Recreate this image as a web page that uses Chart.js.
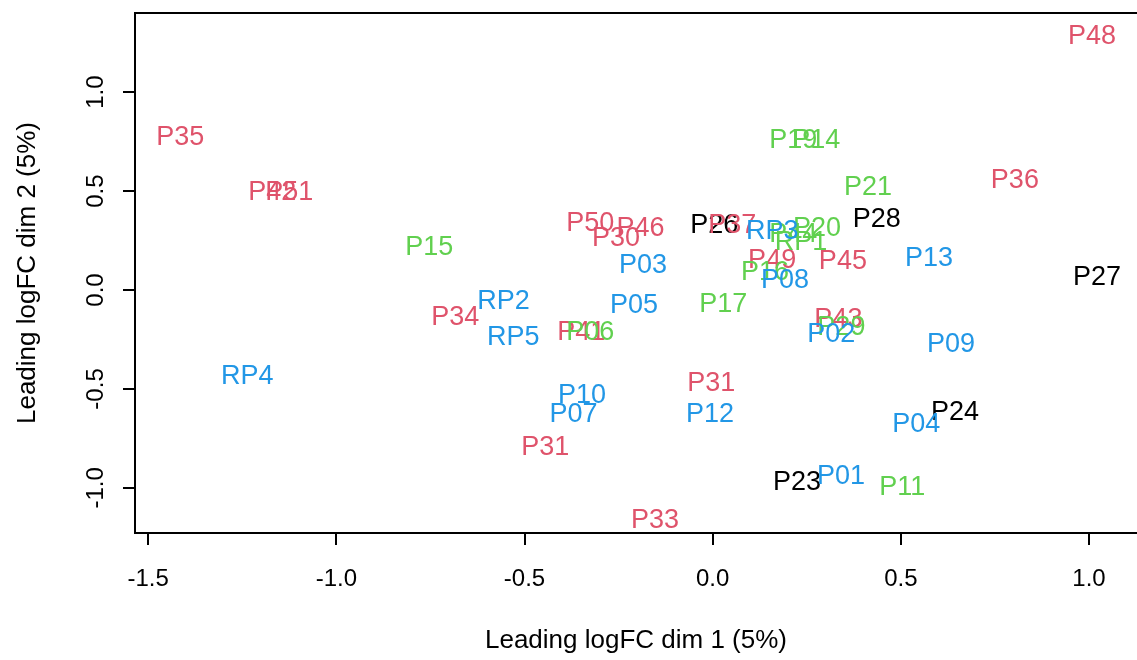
<!DOCTYPE html>
<html>
<head>
<meta charset="utf-8">
<script src="https://cdn.jsdelivr.net/npm/chart.js@4.4.1/dist/chart.umd.min.js"></script>
<style>
  html, body { margin: 0; padding: 0; background: #fff; overflow: hidden; }
  #wrap { width: 1137px; height: 660px; }
</style>
</head>
<body>
<div id="wrap"><canvas id="mds" width="1137" height="660"></canvas></div>
<script>
// sample labels and coordinates, one set per colour group
const blackLabels = ['P26', 'P28', 'P27', 'P24', 'P23'];
const blackX = [0.004, 0.436, 1.021, 0.644, 0.224];
const blackY = [0.338, 0.369, 0.076, -0.606, -0.960];

const redLabels = ['P48', 'P35', 'P42', 'P51', 'P36', 'P50', 'P46', 'P30', 'P37', 'P49',
  'P45', 'P34', 'P41', 'P43', 'P31', 'P31', 'P33'];
const redX = [1.008, -1.415, -1.170, -1.125, 0.803, -0.325, -0.192, -0.257, 0.052, 0.158,
  0.346, -0.684, -0.349, 0.334, -0.004, -0.445, -0.153];
const redY = [1.294, 0.783, 0.505, 0.505, 0.566, 0.349, 0.323, 0.273, 0.338, 0.162,
  0.157, -0.126, -0.202, -0.136, -0.460, -0.783, -1.152];

const greenLabels = ['P15', 'P19', 'P14', 'P21', 'P20', 'P44', 'RP1', 'P16', 'P17', 'P06',
  'P29', 'P11'];
const greenX = [-0.753, 0.214, 0.275, 0.413, 0.277, 0.214, 0.235, 0.139, 0.028, -0.325,
  0.342, 0.504];
const greenY = [0.227, 0.768, 0.768, 0.531, 0.323, 0.293, 0.253, 0.101, -0.061, -0.202,
  -0.177, -0.985];

const blueLabels = ['P03', 'RP3', 'P08', 'P13', 'P05', 'RP2', 'RP5', 'RP4', 'P10', 'P07',
  'P12', 'P02', 'P09', 'P04', 'P01'];
const blueX = [-0.185, 0.158, 0.192, 0.575, -0.209, -0.556, -0.530, -1.237, -0.347, -0.370,
  -0.007, 0.315, 0.633, 0.541, 0.341];
const blueY = [0.136, 0.308, 0.061, 0.172, -0.066, -0.045, -0.227, -0.424, -0.520, -0.616,
  -0.616, -0.212, -0.263, -0.667, -0.930];

const xTicks = [-1.5, -1.0, -0.5, 0.0, 0.5, 1.0];
const yTicks = [-1.0, -0.5, 0.0, 0.5, 1.0];

const FONT = '"Liberation Sans", Arial, sans-serif';
const LABEL_SIZE = 27;

function toPoints(xs, ys) {
  return xs.map((x, i) => ({ x, y: ys[i] }));
}

function group(labels, xs, ys, color) {
  return {
    data: toPoints(xs, ys),
    labels,
    borderColor: color,
    backgroundColor: color,
    pointRadius: 0,
    pointHoverRadius: 0,
    showLine: false,
  };
}

// draws the sample names centred on their points, like R's text()
const textLabels = {
  id: 'textLabels',
  afterDatasetsDraw(chart) {
    const ctx = chart.ctx;
    ctx.save();
    ctx.font = `${LABEL_SIZE}px ${FONT}`;
    ctx.textAlign = 'center';
    ctx.textBaseline = 'alphabetic';
    const capHalf = LABEL_SIZE * 0.358;
    chart.data.datasets.forEach((ds, i) => {
      const meta = chart.getDatasetMeta(i);
      ctx.fillStyle = ds.borderColor;
      meta.data.forEach((pt, j) => ctx.fillText(ds.labels[j], pt.x, pt.y + capHalf));
    });
    ctx.restore();
  },
};

// open box round the plot region (right side is off the picture) plus rotated y tick labels
const rFrame = {
  id: 'rFrame',
  afterDraw(chart) {
    const { ctx, chartArea: a } = chart;
    const y = chart.scales.y;
    ctx.save();
    ctx.strokeStyle = '#000';
    ctx.lineWidth = 2;
    ctx.beginPath();
    ctx.moveTo(a.right + 2, a.top);
    ctx.lineTo(a.left, a.top);
    ctx.lineTo(a.left, a.bottom);
    ctx.lineTo(a.right + 2, a.bottom);
    ctx.stroke();

    ctx.fillStyle = '#000';
    ctx.font = `24px ${FONT}`;
    ctx.textAlign = 'center';
    ctx.textBaseline = 'middle';
    yTicks.forEach(v => {
      ctx.save();
      ctx.translate(96, y.getPixelForValue(v));
      ctx.rotate(-Math.PI / 2);
      ctx.fillText(v.toFixed(1), 0, 0);
      ctx.restore();
    });
    ctx.restore();
  },
};

new Chart(document.getElementById('mds'), {
  type: 'scatter',
  data: {
    datasets: [
      group(blackLabels, blackX, blackY, '#000000'),
      group(redLabels, redX, redY, '#DF536B'),
      group(greenLabels, greenX, greenY, '#61D04F'),
      group(blueLabels, blueX, blueY, '#2297E6'),
    ],
  },
  options: {
    responsive: false,
    animation: false,
    layout: { padding: { top: 13, right: 0, left: 0, bottom: 0 } },
    plugins: {
      legend: { display: false },
      tooltip: { enabled: false },
    },
    scales: {
      x: {
        type: 'linear',
        min: -1.535,
        max: 1.1275,
        afterBuildTicks: s => { s.ticks = xTicks.map(v => ({ value: v })); },
        afterFit: s => { s.height = 127; },
        grid: {
          drawOnChartArea: false,
          drawTicks: true,
          tickLength: 12,
          color: '#000',
          lineWidth: 2,
        },
        border: { display: false },
        ticks: {
          color: '#000',
          font: { family: FONT, size: 24 },
          padding: 20,
          maxRotation: 0,
          callback: v => v.toFixed(1),
        },
        title: {
          display: true,
          text: 'Leading logFC dim 1 (5%)',
          color: '#000',
          font: { family: FONT, size: 26 },
          padding: { top: 0, bottom: 4 },
        },
      },
      y: {
        type: 'linear',
        min: -1.228,
        max: 1.40,
        afterBuildTicks: s => { s.ticks = yTicks.map(v => ({ value: v })); },
        afterFit: s => { s.width = 135; },
        grid: {
          drawOnChartArea: false,
          drawTicks: true,
          tickLength: 12,
          color: '#000',
          lineWidth: 2,
        },
        border: { display: false },
        ticks: { display: false },
        title: {
          display: true,
          text: 'Leading logFC dim 2 (5%)',
          color: '#000',
          font: { family: FONT, size: 26 },
          padding: { top: 12, bottom: 0 },
        },
      },
    },
  },
  plugins: [textLabels, rFrame],
});
</script>
</body>
</html>
